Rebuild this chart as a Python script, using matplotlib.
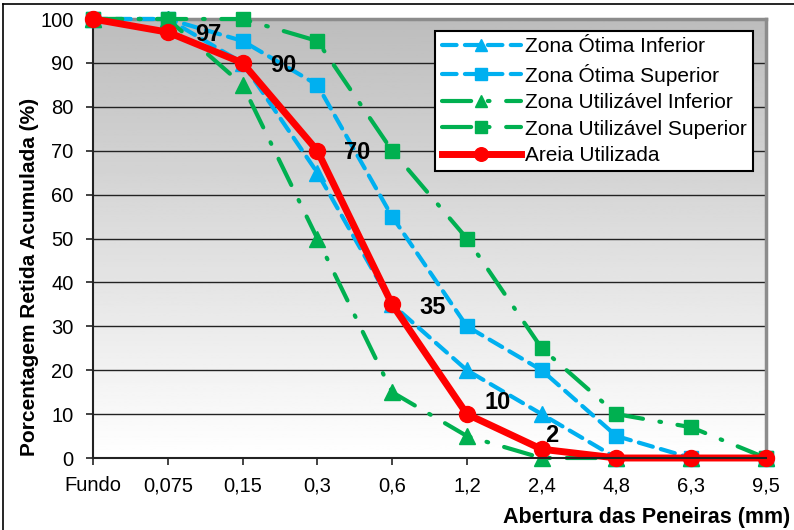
import matplotlib
matplotlib.use("Agg")
import matplotlib.pyplot as plt
import numpy as np
from matplotlib.lines import Line2D

plt.rcParams["font.family"] = ["Liberation Sans", "DejaVu Sans"]

peneiras = ["Fundo", "0,075", "0,15", "0,3", "0,6", "1,2", "2,4", "4,8", "6,3", "9,5"]
otima_inf = [100, 100, 90, 65, 35, 20, 10, 0, 0, 0]
otima_sup = [100, 100, 95, 85, 55, 30, 20, 5, 0, 0]
util_inf = [100, 100, 85, 50, 15, 5, 0, 0, 0, 0]
util_sup = [100, 100, 100, 95, 70, 50, 25, 10, 7, 0]
areia = [100, 97, 90, 70, 35, 10, 2, 0, 0, 0]
rotulos = {1: "97", 2: "90", 3: "70", 4: "35", 5: "10", 6: "2"}
rotulo_offsets = {1: (29, -2), 2: (29, -2), 3: (29, -1), 4: (29, -2), 5: (22, 8), 6: (7, 10)}

AZUL = "#00B0F0"
VERDE = "#00B050"
VERMELHO = "#FF0000"

fig = plt.figure(figsize=(7.94, 5.30), dpi=100)
ax = fig.add_axes([93 / 794, 1 - 458 / 530, 673 / 794, 439 / 530])

x = np.arange(len(peneiras))

# fundo em gradiente (cinza em cima, branco em baixo)
grad = np.linspace(1.0, 0.74, 256).reshape(-1, 1)
ax.imshow(grad, extent=[0, len(peneiras) - 1, 0, 100], aspect="auto",
          cmap="gray", vmin=0, vmax=1, origin="lower", zorder=0)

for v in range(10, 101, 10):
    ax.axhline(v, color="#222222", lw=1.0, zorder=1)

dash_azul = (0, (3.5, 2.0))
dash_verde = (0, (7, 4, 0.4, 4))

ax.plot(x, otima_inf, color=AZUL, lw=3, ls=dash_azul, marker="^", ms=11,
        dash_capstyle="round", label="Zona Ótima Inferior", zorder=3, clip_on=False)
ax.plot(x, otima_sup, color=AZUL, lw=3, ls=dash_azul, marker="s", ms=10,
        dash_capstyle="round", label="Zona Ótima Superior", zorder=3, clip_on=False)
ax.plot(x, util_inf, color=VERDE, lw=3, ls=dash_verde, marker="^", ms=11,
        dash_capstyle="round", label="Zona Utilizável Inferior", zorder=4, clip_on=False)
ax.plot(x, util_sup, color=VERDE, lw=3, ls=dash_verde, marker="s", ms=10,
        dash_capstyle="round", label="Zona Utilizável Superior", zorder=4, clip_on=False)
ax.plot(x, areia, color=VERMELHO, lw=5, marker="o", ms=11.5,
        label="Areia Utilizada", zorder=5, clip_on=False)

for i, txt in rotulos.items():
    ax.annotate(txt, (x[i], areia[i]), xytext=rotulo_offsets[i], textcoords="offset points",
                ha="center", va="center", fontsize=17, fontweight="bold", zorder=6)

ax.set_xlim(0, len(peneiras) - 1)
ax.set_ylim(0, 100)
ax.set_xticks(x)
ax.set_xticklabels(peneiras)
ax.set_yticks(range(0, 101, 10))
ax.tick_params(axis="both", labelsize=14.5, direction="out", length=5, width=1.2, color="#222222")
ax.tick_params(axis="x", pad=8)
ax.tick_params(axis="y", pad=9)

for s in ["left", "bottom"]:
    ax.spines[s].set_color("#222222")
    ax.spines[s].set_linewidth(1.5)
for s in ["top", "right"]:
    ax.spines[s].set_color("#8c8c8c")
    ax.spines[s].set_linewidth(2.5)
ax.spines["bottom"].set_zorder(7)

fig.text(30 / 794, 1 - 277 / 530, "Porcentagem Retida Acumulada (%)", fontsize=15,
         fontweight="bold", rotation=90, ha="center", va="center")
fig.text(790 / 794, 1 - 518 / 530, "Abertura das Peneiras (mm)", fontsize=15.5,
         fontweight="bold", ha="right", va="center")

leg = ax.legend(loc="upper right", bbox_to_anchor=(0.9807, 0.9727), fontsize=15,
                frameon=True, fancybox=False, edgecolor="black", framealpha=1,
                handlelength=3.8, handletextpad=0.2, labelspacing=0.36,
                borderpad=0.3, borderaxespad=0, markerscale=0.85)
leg.get_frame().set_linewidth(1.5)
leg.set_zorder(8)

# moldura externa do gráfico
fig.add_artist(Line2D([3 / 794, 3 / 794], [0, 1 - 4 / 530], color="black", lw=1.2))
fig.add_artist(Line2D([3 / 794, 1], [1 - 4 / 530, 1 - 4 / 530], color="black", lw=1.2))

fig.savefig("out.png", dpi=100)
